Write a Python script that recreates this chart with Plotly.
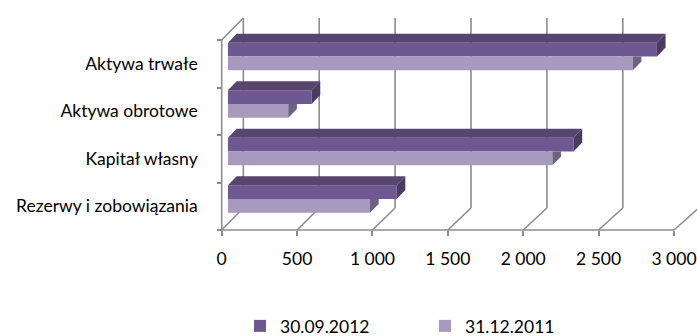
import plotly.graph_objects as go

# ---- data ----
categories = ["Aktywa trwałe", "Aktywa obrotowe", "Kapitał własny", "Rezerwy i zobowiązania"]
series_names = ["30.09.2012", "31.12.2011"]
values_2012 = [2845, 555, 2292, 1119]
values_2011 = [2685, 400, 2152, 942]
x_tickvals = [0, 500, 1000, 1500, 2000, 2500, 3000]
x_ticktext = ["0", "500", "1 000", "1 500", "2 000", "2 500", "3 000"]

# ---- geometry (pixel mapping of the pseudo-3D box) ----
W, H = 697, 336
X0_PX, PX_PER_UNIT = 221.7, 0.15077      # front plane: value 0 pixel, px per unit
Y0_PX, PX_PER_CAT = 40.0, 47.5           # front plane: top of wall, px per category
DEPTH_DX = 21.6 / PX_PER_UNIT            # depth offset in value units
DEPTH_DY = -22.0 / PX_PER_CAT            # depth offset in category units (up)
BACK_SCALE = 0.1518 / PX_PER_UNIT        # slight perspective at the back wall
F1, F2 = 0.29, 0.69                      # bar front / back depth fractions
DARK_T, DARK_B, LIGHT_B = 0.19, 0.48, 0.77

xr = [-X0_PX / PX_PER_UNIT, (W - X0_PX) / PX_PER_UNIT]
yr = [(H - Y0_PX) / PX_PER_CAT, -Y0_PX / PX_PER_CAT]
ncat = len(categories)

def back_x(v):
    return DEPTH_DX + v * BACK_SCALE

dark_front = "#6f5791"
dark_top = "#58456f"
dark_side = "#4b3b5f"
light_front = "#a899bf"
light_side = "#6d6380"
grid_col = "#8c8c8c"
font_fam = "Lato, Carlito, Calibri, sans-serif"

fig = go.Figure()

base = F1 * DEPTH_DX
shift = F1 * DEPTH_DY
ddx = (F2 - F1) * DEPTH_DX
ddy = (F2 - F1) * DEPTH_DY

dark_pos = [i + (DARK_T + DARK_B) / 2 + shift for i in range(ncat)]
light_pos = [i + (DARK_B + LIGHT_B) / 2 + shift for i in range(ncat)]

fig.add_trace(go.Bar(y=dark_pos, x=values_2012, base=[base] * ncat, orientation="h",
                     width=DARK_B - DARK_T, marker=dict(color=dark_front, line=dict(width=0)),
                     name=series_names[0], hoverinfo="x"))
fig.add_trace(go.Bar(y=light_pos, x=values_2011, base=[base] * ncat, orientation="h",
                     width=LIGHT_B - DARK_B, marker=dict(color=light_front, line=dict(width=0)),
                     name=series_names[1], hoverinfo="x"))

# 3D faces
for i in range(ncat):
    v = values_2012[i]
    yt = i + DARK_T + shift
    yb = i + DARK_B + shift
    xe = base + v
    # top face of dark bar
    fig.add_trace(go.Scatter(x=[base, xe, xe + ddx, base + ddx, base],
                             y=[yt, yt, yt + ddy, yt + ddy, yt],
                             fill="toself", fillcolor=dark_top, mode="lines",
                             line=dict(width=0, color=dark_top), showlegend=False, hoverinfo="skip"))
    # right face of dark bar
    fig.add_trace(go.Scatter(x=[xe, xe, xe + ddx, xe + ddx, xe],
                             y=[yt, yb, yb + ddy, yt + ddy, yt],
                             fill="toself", fillcolor=dark_side, mode="lines",
                             line=dict(width=0, color=dark_side), showlegend=False, hoverinfo="skip"))
    # visible right face of light bar
    vl = values_2011[i]
    xl = base + vl
    ylt = i + DARK_B + shift
    ylb = i + LIGHT_B + shift
    fig.add_trace(go.Scatter(x=[xl, xl, xl + ddx, xl + ddx, xl],
                             y=[ylt, ylb, ylb + ddy, ylt, ylt],
                             fill="toself", fillcolor=light_side, mode="lines",
                             line=dict(width=0, color=light_side), showlegend=False, hoverinfo="skip"))

# walls / gridlines as shapes below traces
shapes = []
line_style = dict(color=grid_col, width=1.6)
for v in x_tickvals:
    bx = back_x(v)
    shapes.append(dict(type="line", xref="x", yref="y", x0=bx, y0=ncat + DEPTH_DY, x1=bx, y1=DEPTH_DY,
                       line=line_style, layer="below"))
    shapes.append(dict(type="line", xref="x", yref="y", x0=v, y0=ncat, x1=bx, y1=ncat + DEPTH_DY,
                       line=line_style, layer="below"))
shapes.append(dict(type="line", xref="x", yref="y", x0=0, y0=ncat, x1=x_tickvals[-1], y1=ncat,
                   line=line_style, layer="below"))
shapes.append(dict(type="line", xref="x", yref="y", x0=0, y0=0, x1=0, y1=ncat,
                   line=line_style, layer="below"))
shapes.append(dict(type="line", xref="x", yref="y", x0=0, y0=0, x1=back_x(0), y1=DEPTH_DY,
                   line=line_style, layer="below"))

fig.update_layout(
    width=W, height=H,
    margin=dict(l=0, r=0, t=0, b=0, autoexpand=False),
    paper_bgcolor="white", plot_bgcolor="white",
    barmode="overlay",
    shapes=shapes,
    font=dict(family=font_fam, size=17.5, color="#000000"),
    xaxis=dict(range=xr, showgrid=False, zeroline=False, showline=False,
               anchor="free", position=(H - (Y0_PX + ncat * PX_PER_CAT)) / H,
               tickvals=x_tickvals, ticktext=x_ticktext,
               ticks="outside", ticklen=5, tickcolor=grid_col, tickwidth=1.6,
               ticklabelstandoff=8),
    yaxis=dict(range=yr, showgrid=False, zeroline=False, showline=False,
               anchor="free", position=X0_PX / W,
               tickvals=[i + 0.5 for i in range(ncat)], ticktext=categories,
               ticks="", ticklabelstandoff=24,
               minor=dict(tickvals=list(range(ncat + 1)), ticks="outside", ticklen=5,
                          tickcolor=grid_col, tickwidth=1.6)),
    legend=dict(orientation="h", x=240 / W, xanchor="left", y=10 / H, yanchor="middle",
                font=dict(size=17.5), bgcolor="rgba(0,0,0,0)", entrywidth=140, itemwidth=30),
    showlegend=True,
)

fig.write_html("out.html")
